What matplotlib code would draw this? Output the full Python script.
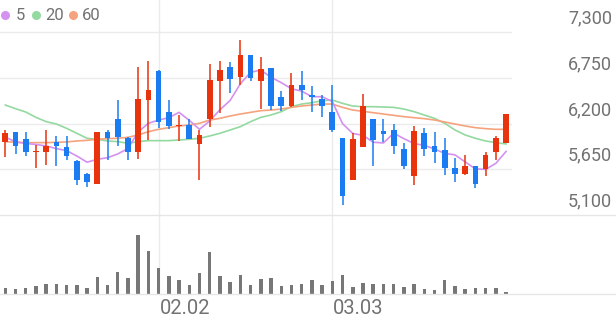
import matplotlib

matplotlib.use("Agg")

import matplotlib.pyplot as plt  # noqa: E402
import matplotlib.transforms as mtransforms  # noqa: E402
import numpy as np  # noqa: E402
from matplotlib.lines import Line2D  # noqa: E402

# daily candles, oldest first
opens = [5972, 6092, 6012, 5856, 5852, 5980, 5916, 5744, 5596, 5476,
         6100, 6260, 6028, 5852, 6484, 6832, 6344, 6168, 6176, 5956,
         6252, 6716, 6884, 6756, 7020, 6712, 6864, 6516, 6412, 6664,
         6540, 6492, 6344, 6024, 5516, 5916, 6260, 6112, 6124, 5892,
         5572, 6084, 5932, 5884, 5664, 5596, 5684, 5652, 5852, 5964]
highs = [6124, 6100, 6092, 5944, 6124, 6052, 6044, 5756, 5604, 6092,
         6124, 6484, 6036, 6884, 6956, 6844, 6484, 6304, 6252, 6124,
         6916, 6956, 6940, 7204, 7024, 7004, 6864, 6596, 6804, 6828,
         6652, 6540, 6664, 6024, 6084, 6556, 6260, 6252, 6196, 5964,
         6164, 6140, 6092, 6020, 5784, 5824, 5692, 5860, 6044, 6312]
lows = [5796, 5836, 5804, 5664, 5704, 5692, 5764, 5460, 5436, 5476,
        5764, 5924, 5764, 5772, 5996, 6144, 6132, 5992, 6012, 5524,
        6156, 6324, 6572, 6664, 6716, 6372, 6364, 6356, 6396, 6484,
        6340, 6284, 6092, 5220, 5516, 5916, 5692, 5972, 5836, 5652,
        5460, 5804, 5724, 5576, 5500, 5580, 5428, 5564, 5756, 5964]
closes = [6084, 5932, 5852, 5860, 5924, 5924, 5812, 5524, 5492, 6092,
          6024, 6036, 5852, 6492, 6604, 6224, 6172, 6176, 6016, 6064,
          6724, 6844, 6736, 7024, 6752, 6856, 6412, 6412, 6660, 6604,
          6520, 6412, 6124, 5332, 6012, 6412, 5996, 6076, 5924, 5684,
          6112, 5892, 5852, 5664, 5596, 5684, 5476, 5820, 6028, 6312]
volumes = [57, 50, 57, 80, 97, 97, 83, 90, 57, 163,
           87, 213, 157, 580, 423, 257, 180, 133, 90, 207,
           417, 180, 117, 187, 90, 147, 160, 80, 83, 100,
           133, 83, 123, 183, 67, 107, 100, 97, 97, 67,
           97, 50, 40, 140, 73, 47, 57, 57, 57, 17]

ma5 = [6036, 5980, 5960, 5948, 5930, 5898, 5874, 5809, 5735, 5769,
       5789, 5834, 5899, 6099, 6202, 6242, 6269, 6334, 6238, 6130,
       6230, 6365, 6477, 6678, 6816, 6842, 6756, 6691, 6618, 6589,
       6522, 6522, 6464, 6198, 6080, 6058, 5975, 5966, 6084, 6018,
       5958, 5938, 5893, 5841, 5823, 5738, 5654, 5648, 5721, 5864]
ma20 = [6422, 6378, 6338, 6274, 6222, 6194, 6142, 6082, 6022, 6010,
        5990, 5982, 5962, 5982, 5994, 5994, 5994, 6002, 6010, 6022,
        6050, 6082, 6122, 6162, 6222, 6274, 6302, 6342, 6402, 6434,
        6450, 6474, 6482, 6442, 6410, 6402, 6402, 6398, 6394, 6374,
        6342, 6302, 6262, 6202, 6122, 6062, 6022, 5990, 5970, 5954]
ma60 = [5982, 5974, 5970, 5970, 5970, 5974, 5978, 5990, 5998, 6010,
        6018, 6022, 6034, 6062, 6102, 6130, 6150, 6170, 6182, 6202,
        6242, 6262, 6290, 6314, 6334, 6354, 6362, 6374, 6394, 6410,
        6422, 6434, 6434, 6394, 6362, 6346, 6330, 6314, 6298, 6282,
        6270, 6258, 6242, 6218, 6194, 6170, 6150, 6138, 6130, 6130]

price_ticks = [5100, 5650, 6200, 6750, 7300]
date_ticks = {15: "02.02", 32: "03.03"}

UP = "#e8330d"
DOWN = "#1a7cf0"
GRID = "#ebebeb"
TEXT = "#727272"
MA_COLORS = {"5": "#d491f0", "20": "#93d9a0", "60": "#f5a37d"}

plt.rcParams["font.family"] = ["Roboto", "DejaVu Sans"]

W, H = 616, 321
fig = plt.figure(figsize=(W / 100, H / 100), dpi=100)
fig.patch.set_facecolor("white")

right = 512 / W
sep_y = 1 - 215 / H
base_y = 1 - 293.5 / H
ax = fig.add_axes([0, sep_y, right, 1 - sep_y])
vax = fig.add_axes([0, base_y, right, sep_y - base_y], sharex=ax)

x = np.arange(len(closes))
o = np.asarray(opens)
c = np.asarray(closes)
colors = [UP if cc >= oo else DOWN for oo, cc in zip(o, c)]

# price panel
for tick in price_ticks[1:]:
    ax.axhline(tick, color=GRID, lw=1, zorder=0)
for idx in date_ticks:
    ax.axvline(idx, color=GRID, lw=1, zorder=0)
    vax.axvline(idx, color=GRID, lw=1, zorder=0)

ax.plot(x, ma20, color=MA_COLORS["20"], lw=1.2, zorder=1)
ax.plot(x, ma60, color=MA_COLORS["60"], lw=1.2, zorder=1)
ax.plot(x, ma5, color=MA_COLORS["5"], lw=1.2, zorder=1)

ax.vlines(x, lows, highs, colors=colors, lw=1.1, zorder=2)
body = np.maximum(np.abs(c - o), 14)
ax.bar(x, body, bottom=np.minimum(o, c), width=0.56, color=colors,
       linewidth=0, zorder=3)

ax.set_xlim(-0.52, 49.58)
ax.set_ylim(5100, 5100 + 215 * 2200 / 183)
ax.axis("off")

# volume panel
vax.bar(x, volumes, width=0.34, color="#777777", linewidth=0, zorder=2)
vax.set_ylim(0, 785)
vax.axis("off")

# full-width separators
for yy in (sep_y, base_y):
    fig.add_artist(Line2D([0, 1], [yy, yy], transform=fig.transFigure,
                          color="#e6e6e6", lw=1))

# price labels on the right, sitting above their grid lines
lab_trans = mtransforms.blended_transform_factory(fig.transFigure, ax.transData)
lab_trans = mtransforms.offset_copy(lab_trans, fig=fig, y=13.5, units="dots")
for tick in price_ticks:
    ax.text(612 / W, tick, f"{tick:,}", transform=lab_trans, ha="right",
            va="center", fontsize=13, color=TEXT, clip_on=False)

# date labels, left aligned on their grid lines
date_trans = mtransforms.blended_transform_factory(vax.transData, fig.transFigure)
date_trans = mtransforms.offset_copy(date_trans, fig=fig, x=1, units="dots")
for idx, label in date_ticks.items():
    vax.text(idx, 1 - 309 / H, label, transform=date_trans, ha="left",
             va="center", fontsize=14.5, color=TEXT, clip_on=False)

# legend
legend_x = [(4.5, 16), (36, 45), (73, 82)]
for (cx, tx), (name, col) in zip(legend_x, MA_COLORS.items()):
    fig.add_artist(Line2D([cx / W], [1 - 15 / H], marker="o", markersize=6.5,
                          color=col, markeredgewidth=0,
                          transform=fig.transFigure))
    fig.text(tx / W, 1 - 15 / H, name, ha="left", va="center", fontsize=12,
             color=TEXT)

fig.savefig("out.png", dpi=100, facecolor="white")
